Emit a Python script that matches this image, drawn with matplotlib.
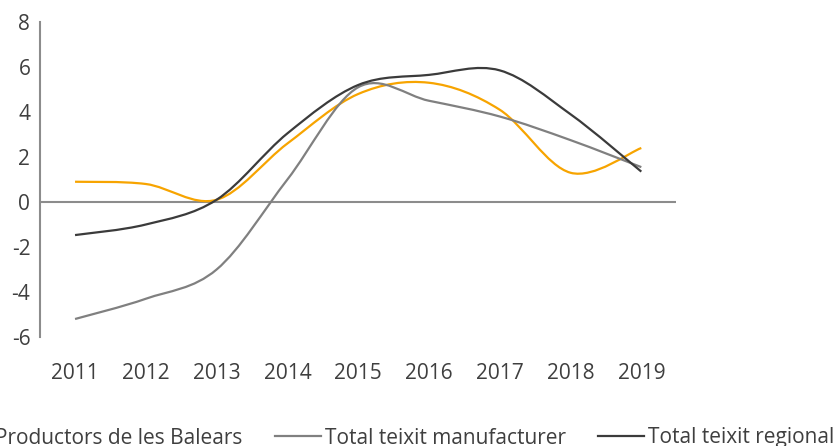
import numpy as np
import matplotlib
matplotlib.use('Agg')
import matplotlib.pyplot as plt
from matplotlib.path import Path
from matplotlib.patches import PathPatch
from matplotlib.lines import Line2D

years = ['2011', '2012', '2013', '2014', '2015', '2016', '2017', '2018', '2019']
productors = [0.9, 0.8, 0.1, 2.6, 4.8, 5.3, 4.1, 1.3, 2.4]
manufacturer = [-5.2, -4.3, -3.0, 1.0, 5.1, 4.5, 3.8, 2.75, 1.55]
regional = [-1.47, -1.0, 0.1, 3.05, 5.2, 5.65, 5.85, 3.9, 1.35]

labels = ['Productors de les Balears', 'Total teixit manufacturer', 'Total teixit regional']
colors = ['#F7A400', '#808080', '#3B3B3B']

plt.rcParams['font.family'] = ['Open Sans', 'DejaVu Sans']
plt.rcParams['axes.unicode_minus'] = False
text_col = '#3F3F3F'


def smooth_path(xs, ys):
    # excel-like smoothed line, cubic bezier through each point
    pts = np.column_stack([xs, ys]).astype(float)
    n = len(pts)
    verts = [pts[0]]
    codes = [Path.MOVETO]
    for i in range(n - 1):
        p0 = pts[i - 1] if i > 0 else pts[i]
        p1 = pts[i]
        p2 = pts[i + 1]
        p3 = pts[i + 2] if i + 2 < n else pts[i + 1]
        verts += [p1 + (p2 - p0) / 6, p2 - (p3 - p1) / 6, p2]
        codes += [Path.CURVE4] * 3
    return Path(verts, codes)


fig = plt.figure(figsize=(8.36, 4.46), dpi=100)
ax = fig.add_axes([40 / 836, 1 - 337 / 446, 636 / 836, 315 / 446])

x = np.arange(len(years))
for vals, c in zip([productors, manufacturer, regional], colors):
    ax.add_patch(PathPatch(smooth_path(x, vals), fill=False, edgecolor=c, lw=1.6))

ax.axhline(0, color='#8C8C8C', lw=1.5, zorder=0)

ax.set_xlim(-0.495, 8.49)
ax.set_ylim(-6, 8)
ax.set_yticks(range(-6, 9, 2))
ax.set_xticks(x)
ax.set_xticklabels(years)

for s in ['top', 'right', 'bottom']:
    ax.spines[s].set_visible(False)
ax.spines['left'].set_color('#8C8C8C')
ax.spines['left'].set_linewidth(1.5)

ax.tick_params(axis='y', length=0, pad=7, labelsize=15, labelcolor=text_col)
ax.tick_params(axis='x', length=0, pad=19, labelsize=15, labelcolor=text_col)

handles = [Line2D([], [], color=c, lw=1.6) for c in colors]
fig.legend(handles, labels, loc='center', bbox_to_anchor=(390 / 836, 1 - 438 / 446),
           ncol=3, frameon=False, fontsize=15, labelcolor=text_col,
           handlelength=2.2, handletextpad=0.2, columnspacing=1.55)

fig.savefig('out.png', dpi=100)
